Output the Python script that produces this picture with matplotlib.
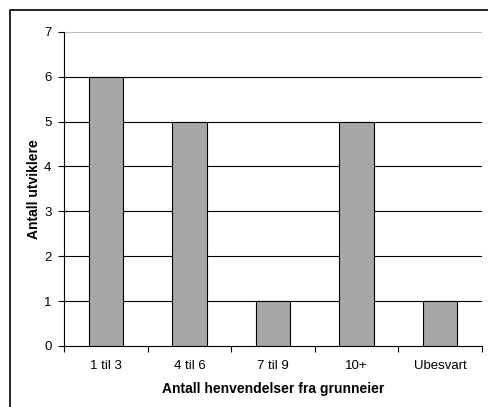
import matplotlib.pyplot as plt
from matplotlib.patches import Rectangle

categories = ['1 til 3', '4 til 6', '7 til 9', '10+', 'Ubesvart']
counts = [6, 5, 1, 5, 1]

plt.rcParams['font.family'] = ['Liberation Sans', 'DejaVu Sans']

fig = plt.figure(figsize=(4.89, 4.07), dpi=100)
ax = fig.add_axes([64 / 489, 1 - 346 / 407, (482 - 64) / 489, (346 - 31.7) / 407])

# outer frame (only top and left edges fall inside the picture)
fig.patches.append(Rectangle((10 / 489, -0.1), 1.2, 1 - 10 / 407 + 0.1,
                             transform=fig.transFigure, fill=False,
                             edgecolor='black', linewidth=1.2))

x = list(range(len(categories)))
ax.bar(x, counts, width=0.41, color='#a6a6a6', edgecolor='black', linewidth=0.8, zorder=3)

ax.set_xlim(-0.5, len(categories) - 0.5)
ax.set_ylim(0, 7)
ax.set_yticks(range(8))
for v in range(1, 7):
    ax.axhline(v, color='black', linewidth=0.8, zorder=1)
ax.axhline(7, color='#c0c0c0', linewidth=0.8, zorder=1)

ax.set_xticks(x)
ax.set_xticklabels(categories)
ax.set_xticks([i - 0.5 for i in range(len(categories) + 1)], minor=True)
ax.tick_params(axis='x', which='major', length=0, pad=10, labelsize=9.5)
ax.tick_params(axis='x', which='minor', length=4, width=0.8)
ax.tick_params(axis='y', length=4, width=0.8, labelsize=9.5, pad=5)

for s in ['top', 'right']:
    ax.spines[s].set_visible(False)
for s in ['left', 'bottom']:
    ax.spines[s].set_linewidth(0.8)

ax.set_xlabel('Antall henvendelser fra grunneier', fontweight='bold', fontsize=10, labelpad=7)
ax.set_ylabel('Antall utviklere', fontweight='bold', fontsize=10, labelpad=2)

fig.savefig('out.png', dpi=100)
